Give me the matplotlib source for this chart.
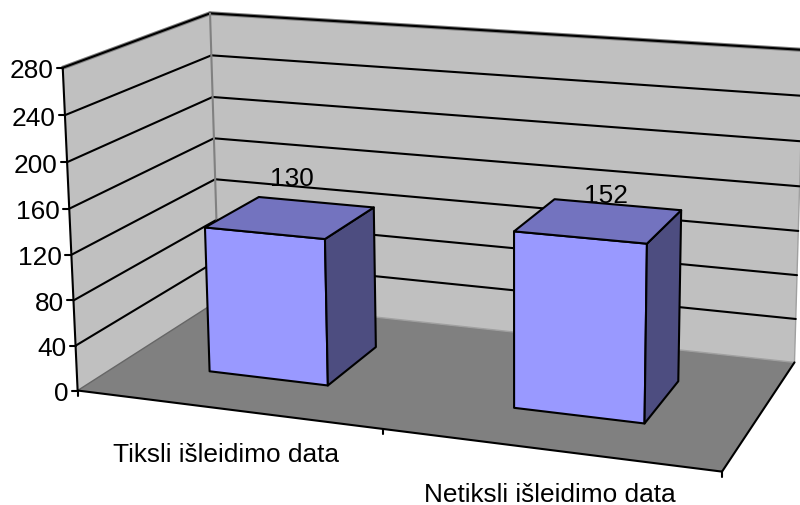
import numpy as np
import matplotlib
matplotlib.use("Agg")
import matplotlib.pyplot as plt
from matplotlib.patches import Polygon

categories = ["Tiksli išleidimo data", "Netiksli išleidimo data"]
values = [130, 152]
ticks = [0, 40, 80, 120, 160, 200, 240, 280]
vmax = 280

# camera calibration: world (x across, y depth, axis value) <-> reference pixels
world = [(0,0,0),(0,0,280),(0,1,0),(0,1,280),(1,1,0),(1,1,280),(1,0,0),
         (0,0,160),(0,1,160),(0,0,80),(0,0,240),(0,1,80),(0,1,240),(0,0,120),(0,1,120),(0,0,40),(0,0,200),(0,1,200)]
pix = [(78,391),(62,68),(217,301),(210,13),(795,363),(803,51),(722,473),
       (69.5,211),(214,138.5),(73.5,301),(64,117),(216,221),(212,57),(72,255),(216,181),(76,347),(67,163),(213.5,99)]
A = []
for (X,Y,V),(u,v) in zip(world,pix):
    Z = V/vmax
    A.append([X,Y,Z,1,0,0,0,0,-u*X,-u*Y,-u*Z,-u])
    A.append([0,0,0,0,X,Y,Z,1,-v*X,-v*Y,-v*Z,-v])
CAM = np.linalg.svd(np.array(A,float))[2][-1].reshape(3,4)

def P(x,y,val):
    h = CAM @ np.array([x,y,val/vmax,1.0])
    return (h[0]/h[2], h[1]/h[2])

fig = plt.figure(figsize=(8,5.06), dpi=100)
ax = fig.add_axes([0,0,1,1])
ax.set_xlim(0,800); ax.set_ylim(506,0); ax.axis("off")
plt.rcParams['font.family'] = ['Liberation Sans']
FS = 18.9

WALL, FLOOR, GREY = "#C0C0C0", "#808080", "#808080"
def poly(pts, fc, ec="none", lw=0, z=1):
    ax.add_patch(Polygon(pts, closed=True, fc=fc, ec=ec, lw=lw, zorder=z, joinstyle="round"))
def line(a, b, c="black", lw=1.5, z=2):
    ax.plot([a[0],b[0]],[a[1],b[1]], color=c, lw=lw, zorder=z, solid_capstyle="round")

poly([P(0,0,0),P(0,1,0),P(0,1,vmax),P(0,0,vmax)], WALL)
poly([P(0,1,0),P(1,1,0),P(1,1,vmax),P(0,1,vmax)], WALL)
poly([P(0,0,0),P(1,0,0),P(1,1,0),P(0,1,0)], FLOOR)

for t in ticks[1:]:
    if t == vmax:
        line(P(0,0,t),P(0,1,t),GREY,3.0,2); line(P(0,1,t),P(1,1,t),GREY,3.0,2)
    line(P(0,0,t),P(0,1,t),"black",1.5,3 ); line(P(0,1,t),P(1,1,t),"black",1.5,3)
line(P(0,1,0),P(0,1,vmax),GREY,1.5,3.5)
line(P(0,0,0),P(0,1,0),"#666666",1.0,2)
line(P(0,1,0),P(1,1,0),"#A0A0A0",1.0,2)
line(P(1,1,0),P(1,1,vmax),"#A0A0A0",1.0,2)

# axes and ticks
line(P(0,0,0),P(0,0,vmax)); line(P(0,0,0),P(1,0,0)); line(P(1,0,0),P(1,1,0))
for t in ticks:
    x,y = P(0,0,t)
    line((x-6,y),(x,y))
    ax.text(x-9.5,y,str(t),ha="right",va="center_baseline",fontsize=FS,color="black",zorder=6)
for f in (0,.5,1):
    x,y = P(f,0,0)
    line((x,y),(x,y+5))

# bars
BAR_W, Y0, Y1, X_SHIFT = 0.2, 0.30, 0.70, 0.0
TOP, FRONT, SIDE = "#7373BF", "#9999FF", "#4D4D80"
label_shift = [(-24,-27),(-11,-12)]
for i,(val) in enumerate(values):
    x0 = (i+.5)/len(values) - BAR_W/2 + X_SHIFT; x1 = x0 + BAR_W
    poly([P(x0,Y0,0),P(x1,Y0,0),P(x1,Y0,val),P(x0,Y0,val)], FRONT, "black", 1.5, 5)
    poly([P(x1,Y0,0),P(x1,Y1,0),P(x1,Y1,val),P(x1,Y0,val)], SIDE, "black", 1.5, 5)
    poly([P(x0,Y0,val),P(x1,Y0,val),P(x1,Y1,val),P(x0,Y1,val)], TOP, "black", 1.5, 5)
    tx,ty = P((x0+x1)/2,Y1,val)
    ax.text(tx+label_shift[i][0],ty+label_shift[i][1],str(val),ha="center",va="center_baseline",fontsize=FS,zorder=4)

label_off = [(-157,22),(166,62)]
for i,c in enumerate(categories):
    x,y = P(.5,0,0)
    ax.text(x+label_off[i][0],y+label_off[i][1],c,ha="center",va="center_baseline",fontsize=FS,zorder=6)

fig.savefig("out.png", dpi=100)
